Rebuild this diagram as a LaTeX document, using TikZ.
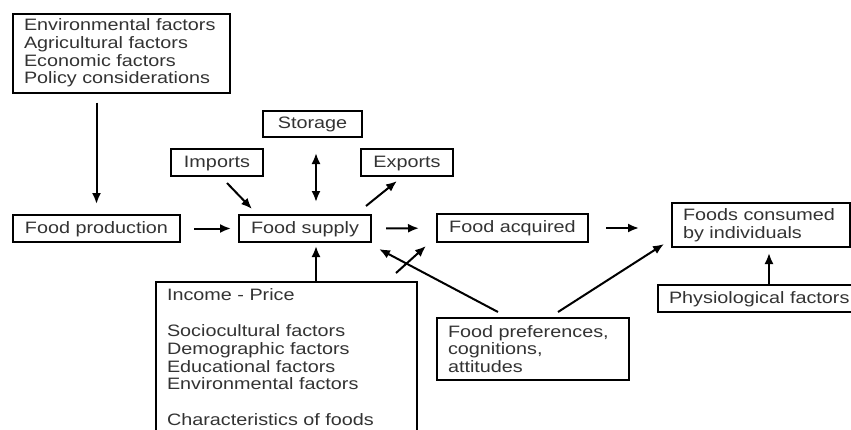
\documentclass[tikz,border=0pt]{standalone}
\usepackage{fontspec}
\setmainfont[FakeStretch=1.2]{Liberation Sans}
\usetikzlibrary{arrows.meta}
\tikzset{>={Latex[width=9pt,length=11pt]}}
\tikzset{box/.style={draw, inner xsep=11pt, inner ysep=0pt, align=left, text=black!80,
    font=\fontsize{16.5}{17.8}\selectfont},
  onebox/.style={box, align=center, text height=12pt, text depth=3pt}}

\begin{document}
\begin{tikzpicture}[x=1pt, y=-1pt, line width=2pt]

  \clip (0,0) rectangle (851,429);
  \fill[white] (0,0) rectangle (851,429);

  \node[box, text width=195pt, minimum height=79pt] (factors) at (121.5,53)
    {Environmental factors\\Agricultural factors\\Economic factors\\Policy considerations};
  \node[onebox, text width=145pt, minimum height=27pt] (production) at (96.5,228.5) {Food production};
  \node[onebox, text width=110pt, minimum height=27pt] (supply) at (305,228.5) {Food supply};
  \node[onebox, text width=77pt, minimum height=26pt] (storage) at (312.5,124) {Storage};
  \node[onebox, text width=70pt, minimum height=27pt] (imports) at (217,162.5) {Imports};
  \node[onebox, text width=70pt, minimum height=27pt] (exports) at (407,162.5) {Exports};
  \node[onebox, text width=129pt, minimum height=28pt] (acquired) at (512.5,228) {Food acquired};
  \node[box, text width=156pt, minimum height=44pt] (consumed) at (761,225) {Foods consumed\\by individuals};
  \node[box, text width=190pt, minimum height=27pt, text height=12pt, text depth=3pt] (physio) at (764,298.5) {Physiological factors};
  \node[box, text width=170pt, minimum height=62pt] (prefs) at (533,349)
    {Food preferences,\\cognitions,\\attitudes};
  % bottom of this one runs off the page
  \node[box, text width=239pt, inner ysep=7pt, anchor=north] (income) at (286.5,281)
    {Income - Price\\[17.8pt]Sociocultural factors\\Demographic factors\\Educational factors\\Environmental factors\\[17.8pt]Characteristics of foods\\~\\~};

  \draw[->, shorten <=9pt, shorten >=10pt] (production.north |- factors.south) -- (production.north); % factors->production
  \draw[->, shorten <=13pt, shorten >=7pt] (production) -- (supply); % production->supply
  \draw[->] ([xshift=10pt,yshift=-6pt]imports.south) -- ([xshift=14pt,yshift=5pt]supply.north west); % imports->supply
  \draw[<->, shorten <=15pt, shorten >=12pt] ([xshift=3.5pt]storage.south) -- ([xshift=11pt]supply.north); % storage<->supply
  \draw[->] ([xshift=-6pt,yshift=8pt]supply.north east) -- ([xshift=-10pt,yshift=-4pt]exports.south); % supply->exports
  \draw[->, shorten <=14pt, shorten >=17pt] (supply) -- (acquired); % supply->acquired
  \draw[->, shorten <=17pt, shorten >=32pt] (acquired.east) -- (acquired.east -| consumed.west); % acquired->consumed
  \draw[->, shorten >=5pt] ([xshift=5pt]physio.north) -- ([xshift=5pt]physio.north |- consumed.south); % physio->consumed
  \draw[->, shorten >=3pt] ([xshift=11pt]supply.south |- income.north) -- ([xshift=11pt]supply.south); % income->supply
  \draw[->] ([xshift=-22pt,yshift=8pt]income.north east) -- ([xshift=-10pt,yshift=-3pt]acquired.south west); % income->acquired
  \draw[->] ([xshift=-35pt,yshift=5pt]prefs.north) -- ([xshift=7pt,yshift=-6pt]supply.south east); % prefs->supply
  \draw[->] ([xshift=25pt,yshift=5pt]prefs.north) -- ([xshift=-7pt,yshift=4pt]consumed.south west); % prefs->consumed

\end{tikzpicture}
\end{document}
